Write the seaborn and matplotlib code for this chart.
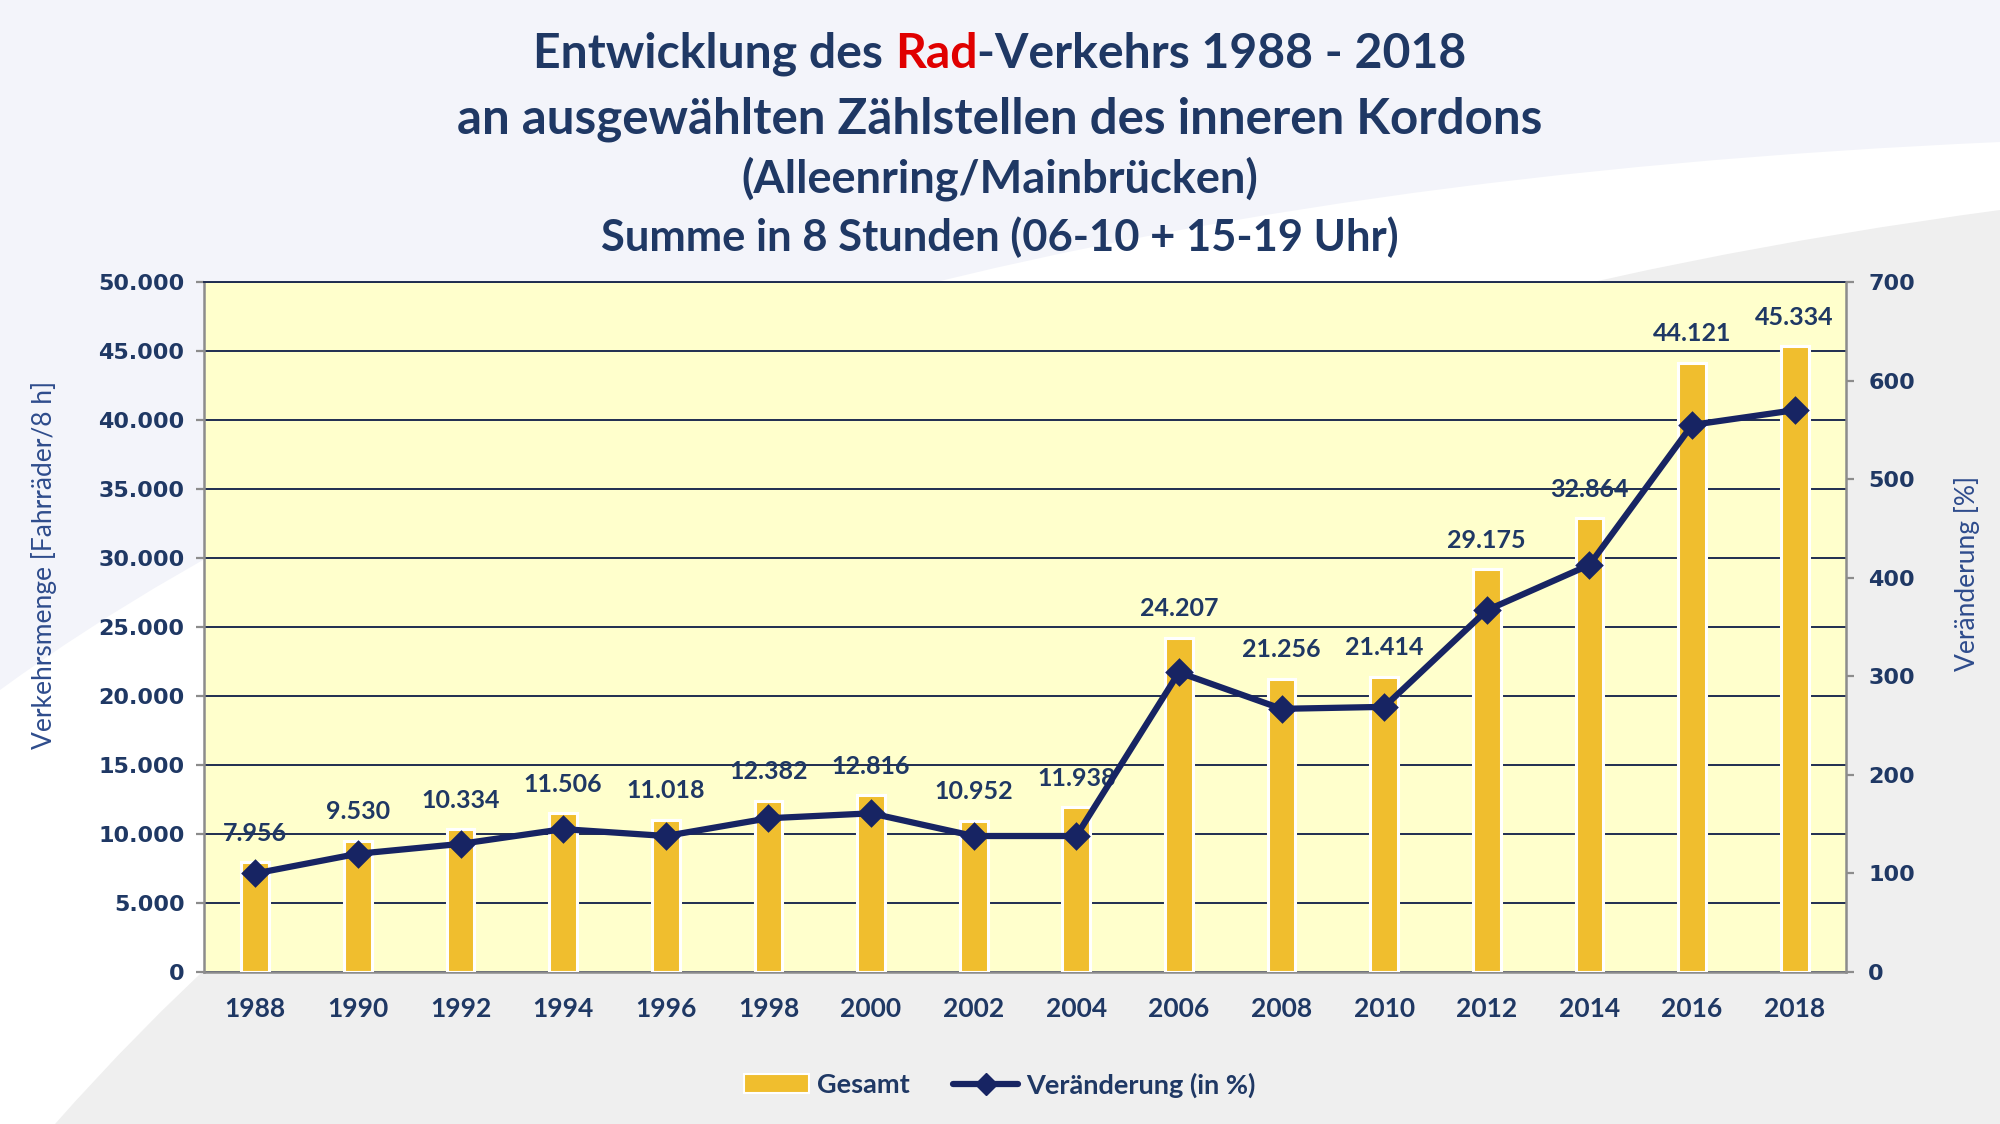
"""Entwicklung des Rad-Verkehrs 1988 - 2018 (Balken + Index-Linie)."""

import matplotlib

matplotlib.use("Agg")

import matplotlib.pyplot as plt
import seaborn as sns
from matplotlib.lines import Line2D
from matplotlib.patches import Patch, PathPatch
from matplotlib.path import Path
from matplotlib.ticker import FuncFormatter, MultipleLocator

# data
years = ["1988", "1990", "1992", "1994", "1996", "1998", "2000", "2002",
         "2004", "2006", "2008", "2010", "2012", "2014", "2016", "2018"]
gesamt = [7956, 9530, 10334, 11506, 11018, 12382, 12816, 10952,
          11938, 24207, 21256, 21414, 29175, 32864, 44121, 45334]
veraenderung = [100, 120, 130, 145, 138, 156, 161, 138,
                138, 304, 267, 269, 367, 413, 555, 570]

title_lines = [
    "an ausgewählten Zählstellen des inneren Kordons",
    "(Alleenring/Mainbrücken)",
    "Summe in 8 Stunden (06-10 + 15-19 Uhr)",
]

NAVY = "#1F3864"
LABEL_BLUE = "#2E4C8C"
LINE_NAVY = "#172463"
BAR_GOLD = "#F0BE2E"
PLOT_BG = "#FFFFCC"
SPINE_GRAY = "#8C8C8C"
RED = "#E00000"

W, H = 2000, 1124


def de_number(value, _pos=None):
    return f"{int(value):,}".replace(",", ".")


def fig_xy(x, y):
    return (x / W, 1 - y / H)


sns.set_style("white")
plt.rcParams["font.family"] = ["Lato", "DejaVu Sans"]

fig = plt.figure(figsize=(20, 11.24), dpi=100)
fig.patch.set_facecolor("white")

# background decoration
lavender = Path(
    [fig_xy(0, 690), fig_xy(671, 200), fig_xy(2000, 142), fig_xy(2000, 0), fig_xy(0, 0), fig_xy(0, 690)],
    [Path.MOVETO, Path.CURVE3, Path.CURVE3, Path.LINETO, Path.LINETO, Path.CLOSEPOLY],
)
gray = Path(
    [fig_xy(55, 1124), fig_xy(709, 382), fig_xy(2000, 210), fig_xy(2000, 1124), fig_xy(55, 1124)],
    [Path.MOVETO, Path.CURVE3, Path.CURVE3, Path.LINETO, Path.CLOSEPOLY],
)
for path, colour in [(lavender, "#F3F4FA"), (gray, "#EFEFEF")]:
    fig.add_artist(PathPatch(path, facecolor=colour, edgecolor="none",
                             transform=fig.transFigure, zorder=-5))

ax = fig.add_axes([0.102, 0.1352, 0.821, 0.6139])
ax.set_facecolor(PLOT_BG)

sns.barplot(x=years, y=gesamt, ax=ax, color=BAR_GOLD, saturation=1, width=0.27,
            edgecolor="white", linewidth=2.2, errorbar=None, zorder=3)

for i, value in enumerate(gesamt):
    ax.annotate(de_number(value), (i, value), xytext=(0, 21), textcoords="offset points",
                ha="center", va="center", fontsize=18, fontweight="bold", color=NAVY, zorder=5)

ax.set_ylim(0, 50000)
ax.set_xlim(-0.5, len(years) - 0.5)
ax.yaxis.set_major_locator(MultipleLocator(5000))
ax.yaxis.set_major_formatter(FuncFormatter(de_number))
ax.yaxis.grid(True, color="#1F2D50", linewidth=1.4, zorder=1)
ax.set_axisbelow(True)
ax.tick_params(axis="y", length=6, width=1.6, color=SPINE_GRAY, pad=8, labelcolor=NAVY)
ax.tick_params(axis="x", length=0, pad=18, labelcolor=NAVY, labelsize=19)
for label in ax.get_yticklabels():
    label.set_fontfamily("DejaVu Sans")
    label.set_fontweight("bold")
    label.set_fontsize(16)
for label in ax.get_xticklabels():
    label.set_fontweight("bold")
ax.set_xlabel("")
ax.set_ylabel("Verkehrsmenge [Fahrräder/8 h]", fontsize=19, color=LABEL_BLUE)
ax.yaxis.set_label_coords(-0.0895, 0.59)
for side in ["left", "bottom"]:
    ax.spines[side].set_color(SPINE_GRAY)
    ax.spines[side].set_linewidth(1.8)
ax.spines["top"].set_color("#1F2D50")
ax.spines["top"].set_linewidth(1.4)
ax.spines["right"].set_visible(False)

ax2 = ax.twinx()
sns.pointplot(x=years, y=veraenderung, ax=ax2, color=LINE_NAVY, marker="D",
              markersize=11, linewidth=4.5, errorbar=None)
ax2.set_xlim(-0.5, len(years) - 0.5)
ax2.set_ylim(0, 700)
ax2.yaxis.set_major_locator(MultipleLocator(100))
ax2.tick_params(axis="y", length=6, width=1.6, color=SPINE_GRAY, pad=10, labelcolor=NAVY)
for label in ax2.get_yticklabels():
    label.set_fontfamily("DejaVu Sans")
    label.set_fontweight("bold")
    label.set_fontsize(16)
ax2.set_ylabel("Veränderung [%]", fontsize=19, color=LABEL_BLUE, rotation=90)
ax2.yaxis.set_label_coords(1.066, 0.578)
for side in ["left", "top", "bottom"]:
    ax2.spines[side].set_visible(False)
ax2.spines["right"].set_color(SPINE_GRAY)
ax2.spines["right"].set_linewidth(1.8)

# title, first line with a red "Rad"
renderer = fig.canvas.get_renderer()
title_kw = dict(fontsize=34.7, fontweight="bold", va="center", ha="left")


def text_width(s):
    t = fig.text(0, 0, s, **title_kw)
    w = t.get_window_extent(renderer).width
    t.remove()
    return w


full = "Entwicklung des Rad-Verkehrs 1988 - 2018"
x0 = W / 2 - text_width(full) / 2
upto_rad = text_width("Entwicklung des Rad")
rad_w = text_width("Rad")
y1 = 1 - 54 / H
fig.text(x0 / W, y1, "Entwicklung des", color=NAVY, **title_kw)
fig.text((x0 + upto_rad - rad_w) / W, y1, "Rad", color=RED, **title_kw)
fig.text((x0 + upto_rad) / W, y1, "-Verkehrs 1988 - 2018", color=NAVY, **title_kw)

for text, ypix, size in zip(title_lines, [119, 179, 237], [35.5, 32.5, 31.3]):
    fig.text(0.5, 1 - ypix / H, text, ha="center", va="center", fontsize=size,
             fontweight="bold", color=NAVY)

handles = [
    Patch(facecolor=BAR_GOLD, edgecolor="white", linewidth=1.5),
    Line2D([], [], color=LINE_NAVY, linewidth=4.5, marker="D", markersize=11),
]
legend = fig.legend(handles, ["Gesamt", "Veränderung (in %)"], loc="center",
                    bbox_to_anchor=(0.5, 1 - 1085 / H), ncol=2, frameon=False,
                    handlelength=2.4, handletextpad=0.3, columnspacing=1.6,
                    prop={"size": 19.5, "weight": "bold"})
for text in legend.get_texts():
    text.set_color(NAVY)

fig.savefig("out.png", dpi=100, facecolor=fig.get_facecolor())
plt.close(fig)
